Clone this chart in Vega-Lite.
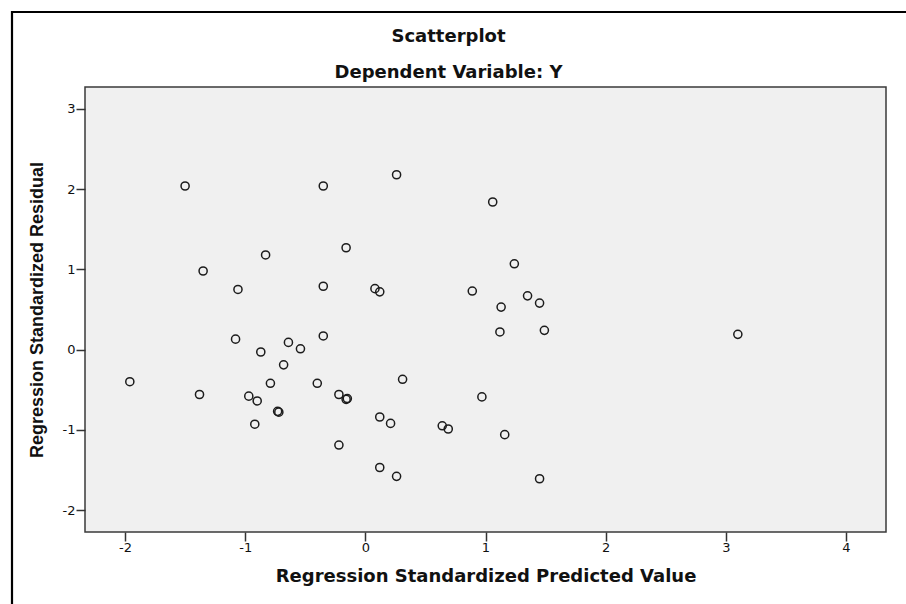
{
  "$schema": "https://vega.github.io/schema/vega-lite/v6.json",
  "width": 801,
  "height": 445,
  "autosize": {"type": "none"},
  "padding": {"left": 85, "top": 87, "right": 20, "bottom": 72},
  "background": "white",
  "view": {"fill": "#f0f0f0", "stroke": "#3a3a3a", "strokeWidth": 1.5},
  "title": {
    "text": "Scatterplot",
    "subtitle": "Dependent Variable: Y",
    "font": "DejaVu Sans",
    "fontSize": 18,
    "fontWeight": "bold",
    "color": "#111",
    "subtitleFont": "DejaVu Sans",
    "subtitleFontSize": 18,
    "subtitleFontWeight": "bold",
    "subtitleColor": "#111",
    "subtitlePadding": 18,
    "anchor": "middle",
    "frame": "group",
    "dx": -37,
    "offset": -71
  },
  "datasets": {
    "residuals": [
      {"pred": -1.50, "resid": 2.04},
      {"pred": -0.35, "resid": 2.04},
      {"pred": 0.26, "resid": 2.18},
      {"pred": -0.83, "resid": 1.18},
      {"pred": -0.16, "resid": 1.27},
      {"pred": -1.35, "resid": 0.98},
      {"pred": -1.06, "resid": 0.75},
      {"pred": -0.35, "resid": 0.79},
      {"pred": 0.08, "resid": 0.76},
      {"pred": 0.12, "resid": 0.72},
      {"pred": -1.08, "resid": 0.13},
      {"pred": -0.64, "resid": 0.09},
      {"pred": -0.87, "resid": -0.03},
      {"pred": -0.54, "resid": 0.01},
      {"pred": -0.35, "resid": 0.17},
      {"pred": -0.68, "resid": -0.19},
      {"pred": -1.96, "resid": -0.40},
      {"pred": -0.79, "resid": -0.42},
      {"pred": -0.40, "resid": -0.42},
      {"pred": 0.31, "resid": -0.37},
      {"pred": -1.38, "resid": -0.56},
      {"pred": -0.97, "resid": -0.58},
      {"pred": -0.90, "resid": -0.64},
      {"pred": -0.22, "resid": -0.56},
      {"pred": -0.16, "resid": -0.62},
      {"pred": -0.15, "resid": -0.61},
      {"pred": -0.73, "resid": -0.77},
      {"pred": -0.72, "resid": -0.78},
      {"pred": -0.92, "resid": -0.93},
      {"pred": 0.12, "resid": -0.84},
      {"pred": 0.21, "resid": -0.92},
      {"pred": -0.22, "resid": -1.19},
      {"pred": 0.12, "resid": -1.47},
      {"pred": 0.26, "resid": -1.58},
      {"pred": 1.06, "resid": 1.84},
      {"pred": 1.24, "resid": 1.07},
      {"pred": 0.89, "resid": 0.73},
      {"pred": 1.35, "resid": 0.67},
      {"pred": 1.13, "resid": 0.53},
      {"pred": 1.45, "resid": 0.58},
      {"pred": 1.12, "resid": 0.22},
      {"pred": 1.49, "resid": 0.24},
      {"pred": 0.97, "resid": -0.59},
      {"pred": 0.64, "resid": -0.95},
      {"pred": 0.69, "resid": -0.99},
      {"pred": 1.16, "resid": -1.06},
      {"pred": 1.45, "resid": -1.61},
      {"pred": 3.10, "resid": 0.19}
    ],
    "frame": [{}]
  },
  "layer": [
    {
      "data": {"name": "frame"},
      "mark": {"type": "rect", "fill": null, "stroke": "#000", "strokeWidth": 2.2},
      "encoding": {
        "x": {"value": -73},
        "y": {"value": -75},
        "x2": {"value": 1000},
        "y2": {"value": 700}
      }
    },
    {
      "data": {"name": "residuals"},
      "mark": {"type": "point", "shape": "circle", "filled": false, "size": 66, "strokeWidth": 1.5, "color": "#1c1c1c", "opacity": 1},
      "encoding": {
        "x": {
          "field": "pred",
          "type": "quantitative",
          "scale": {"domain": [-2.333, 4.333], "nice": false, "zero": false},
          "axis": {
            "title": "Regression Standardized Predicted Value",
            "values": [-2, -1, 0, 1, 2, 3, 4],
            "labelExpr": "datum.value + ''",
            "grid": false,
            "domain": false,
            "tickSize": 9,
            "tickWidth": 1.5,
            "tickColor": "#333",
            "labelFont": "DejaVu Sans",
            "labelFontSize": 13,
            "labelColor": "#111",
            "labelPadding": 0,
            "titleFont": "DejaVu Sans",
            "titleFontSize": 18,
            "titleFontWeight": "bold",
            "titleColor": "#111",
            "titlePadding": 13
          }
        },
        "y": {
          "field": "resid",
          "type": "quantitative",
          "scale": {"domain": [-2.274, 3.274], "nice": false, "zero": false},
          "axis": {
            "title": "Regression Standardized Residual",
            "values": [-2, -1, 0, 1, 2, 3],
            "labelExpr": "datum.value + ''",
            "grid": false,
            "domain": false,
            "tickSize": 9,
            "tickWidth": 1.5,
            "tickColor": "#333",
            "labelFont": "DejaVu Sans",
            "labelFontSize": 13,
            "labelColor": "#111",
            "labelPadding": 1,
            "titleFont": "Liberation Sans",
            "titleFontSize": 18,
            "titleFontWeight": "bold",
            "titleColor": "#111",
            "titlePadding": 16
          }
        }
      }
    }
  ]
}
